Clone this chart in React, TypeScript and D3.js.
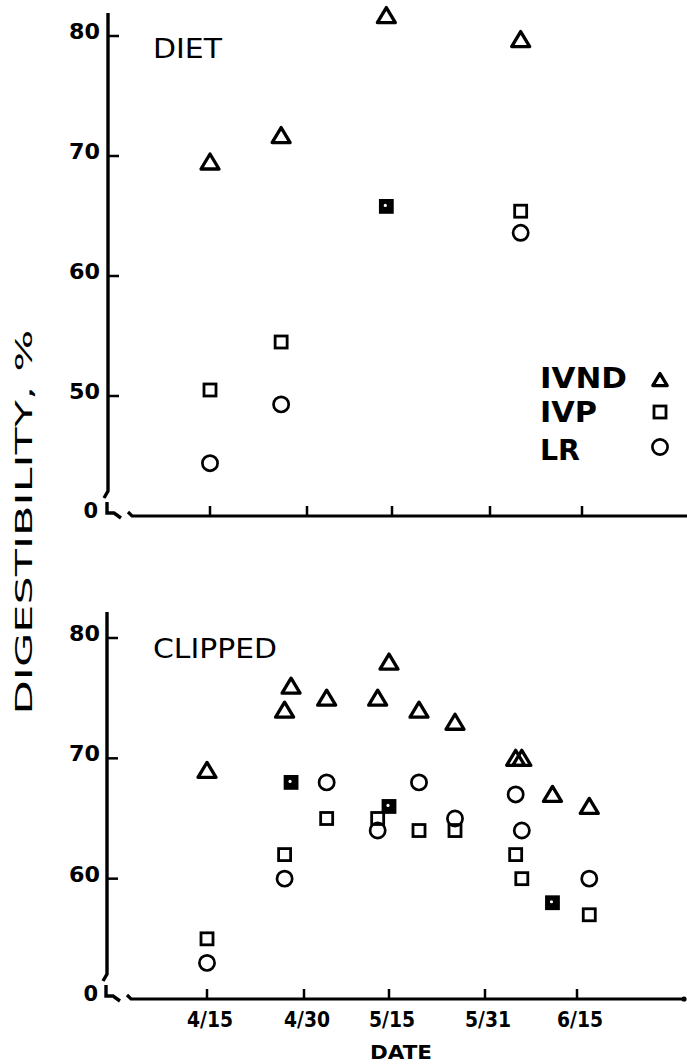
import React from 'react';
import * as d3 from 'd3';

// ---------- data ----------
const tickDates = ["4/15", "4/30", "5/15", "5/31", "6/15"];
const dietYTicks = [80, 70, 60, 50];
const clipYTicks = [80, 70, 60];

const dietDates = ["4/15", "4/26", "5/14", "6/5"];
const dietIVND = [69.5, 71.7, 81.7, 79.7];
const dietIVP = [50.5, 54.5, 65.8, 65.4];
const dietLR = [44.4, 49.3, 65.8, 63.6];

const clipDates = ["4/15", "4/27", "4/28", "5/4", "5/13", "5/15", "5/20", "5/26", "6/5", "6/6", "6/11", "6/17"];
const clipIVND = [69, 74, 76, 75, 75, 78, 74, 73, 70, 70, 67, 66];
const clipIVP = [55, 62, 68, 65, 65, 66, 64, 64, 62, 60, 58, 57];
const clipLR = [53, 60, 68, 68, 64, 66, 68, 65, 67, 64, 58, 60];

const legendLabels = ["IVND", "IVP", "LR"];

const parse = d3.timeParse("%m/%d");
const FONT = "'DejaVu Sans', sans-serif";

// ---------- markers ----------
const Tri = ({ x, y, s = 1 }: any) => (
  <path d={`M${x},${y - 8 * s} L${x + 9 * s},${y + 7 * s} L${x - 9 * s},${y + 7 * s} Z`}
    fill="none" stroke="#000" strokeWidth={3.3} strokeLinejoin="round" />
);
const Sq = ({ x, y, filled = false }: any) => (
  <g>
    <rect x={x - 6} y={y - 6} width={12} height={12} fill={filled ? "#000" : "none"} stroke="#000" strokeWidth={2.8} />
    {filled && <circle cx={x - 1} cy={y - 1} r={1.6} fill="#fff" />}
  </g>
);
const Circ = ({ x, y }: any) => (
  <circle cx={x} cy={y} r={7.6} fill="none" stroke="#000" strokeWidth={2.7} />
);

function Panel({ dates, ivnd, ivp, lr, yTicks, yDomain, yRange, xRange, axisX, axisTop, xEnd, title, titleY, titleLen, showXLabels }: any) {
  const x = d3.scaleTime().domain(tickDates.map((d) => parse(d) as Date)).range(xRange);
  const y = d3.scaleLinear().domain(yDomain).range(yRange);
  const baseY = y(yDomain[0]);
  return (
    <g>
      {/* y axis with break */}
      <path d={`M${axisX},${axisTop} V${baseY - 25} L${axisX - 4},${baseY - 18}`} fill="none" stroke="#000" strokeWidth={3.4} />
      <path d={`M${axisX - 1},${baseY - 14} V${baseY - 3} L${axisX + 6},${baseY - 3} L${axisX + 13},${baseY + 2}`} fill="none" stroke="#000" strokeWidth={3.4} />
      {/* x axis */}
      <path d={`M${axisX + 20},${baseY - 4} L${axisX + 24},${baseY} H${xEnd}`} fill="none" stroke="#000" strokeWidth={3.2} />
      {/* y ticks */}
      {yTicks.map((t: number) => (
        <g key={t}>
          <line x1={axisX} x2={axisX + 11} y1={y(t)} y2={y(t)} stroke="#000" strokeWidth={2.5} />
          <text x={100} y={y(t) + 3} textAnchor="end" fontFamily={FONT} fontWeight="bold" fontSize={21}
            textLength={31} lengthAdjust="spacingAndGlyphs">{t}</text>
        </g>
      ))}
      <text x={98} y={baseY + 2} textAnchor="end" fontFamily={FONT} fontWeight="bold" fontSize={21}>0</text>
      {/* x ticks */}
      {tickDates.map((d) => (
        <g key={d}>
          <line x1={x(parse(d) as Date)} x2={x(parse(d) as Date)} y1={baseY} y2={baseY - 10} stroke="#000" strokeWidth={2.5} />
          {showXLabels && (
            <text x={x(parse(d) as Date) + 3} y={baseY + 28} textAnchor="middle" fontFamily={FONT} fontWeight="bold" fontSize={21}
              textLength={46} lengthAdjust="spacingAndGlyphs">{d}</text>
          )}
        </g>
      ))}
      {/* title */}
      <text x={153} y={titleY} fontFamily={FONT} fontSize={27} textLength={titleLen} lengthAdjust="spacingAndGlyphs">{title}</text>
      {/* data */}
      {dates.map((d: string, i: number) => {
        const px = x(parse(d) as Date);
        const same = lr[i] === ivp[i];
        return (
          <g key={d}>
            {!same && <Circ x={px} y={y(lr[i])} />}
            <Sq x={px} y={y(ivp[i])} filled={same} />
            <Tri x={px} y={y(ivnd[i])} />
          </g>
        );
      })}
    </g>
  );
}

export default function App() {
  return (
    <svg width={687} height={1064} style={{ position: 'absolute', left: 0, top: 0, background: '#fff' }}>
      <rect x={0} y={0} width={687} height={1064} fill="#fff" />
      <Panel dates={dietDates} ivnd={dietIVND} ivp={dietIVP} lr={dietLR}
        yTicks={dietYTicks} yDomain={[40, 80]} yRange={[516, 36]}
        xRange={[210, 307, 392, 490, 582]} axisX={108} axisTop={13} xEnd={687}
        title="DIET" titleY={58} titleLen={69} showXLabels={false} />
      <Panel dates={clipDates} ivnd={clipIVND} ivp={clipIVP} lr={clipLR}
        yTicks={clipYTicks} yDomain={[50, 80]} yRange={[999, 638]}
        xRange={[207, 304, 389, 485, 577]} axisX={107} axisTop={612} xEnd={684}
        title="CLIPPED" titleY={658} titleLen={124} showXLabels={true} />
      <circle cx={684} cy={999} r={2.6} fill="#000" />
      {/* legend */}
      {legendLabels.map((l, i) => (
        <text key={l} x={540} y={[388, 422, 460][i]} fontFamily={FONT} fontWeight="bold" fontSize={28}
          textLength={[87, 57, 40][i]} lengthAdjust="spacingAndGlyphs">{l}</text>
      ))}
      <Tri x={660} y={380} s={0.8} />
      <Sq x={660} y={412} />
      <Circ x={660} y={447} />
      {/* axis titles */}
      <text transform="translate(32,522) rotate(-90)" textAnchor="middle" fontFamily={FONT} fontSize={23}
        textLength={385} lengthAdjust="spacingAndGlyphs">DIGESTIBILITY,  %</text>
      <text x={401} y={1059} textAnchor="middle" fontFamily={FONT} fontWeight="bold" fontSize={20}
        textLength={62} lengthAdjust="spacingAndGlyphs">DATE</text>
    </svg>
  );
}
